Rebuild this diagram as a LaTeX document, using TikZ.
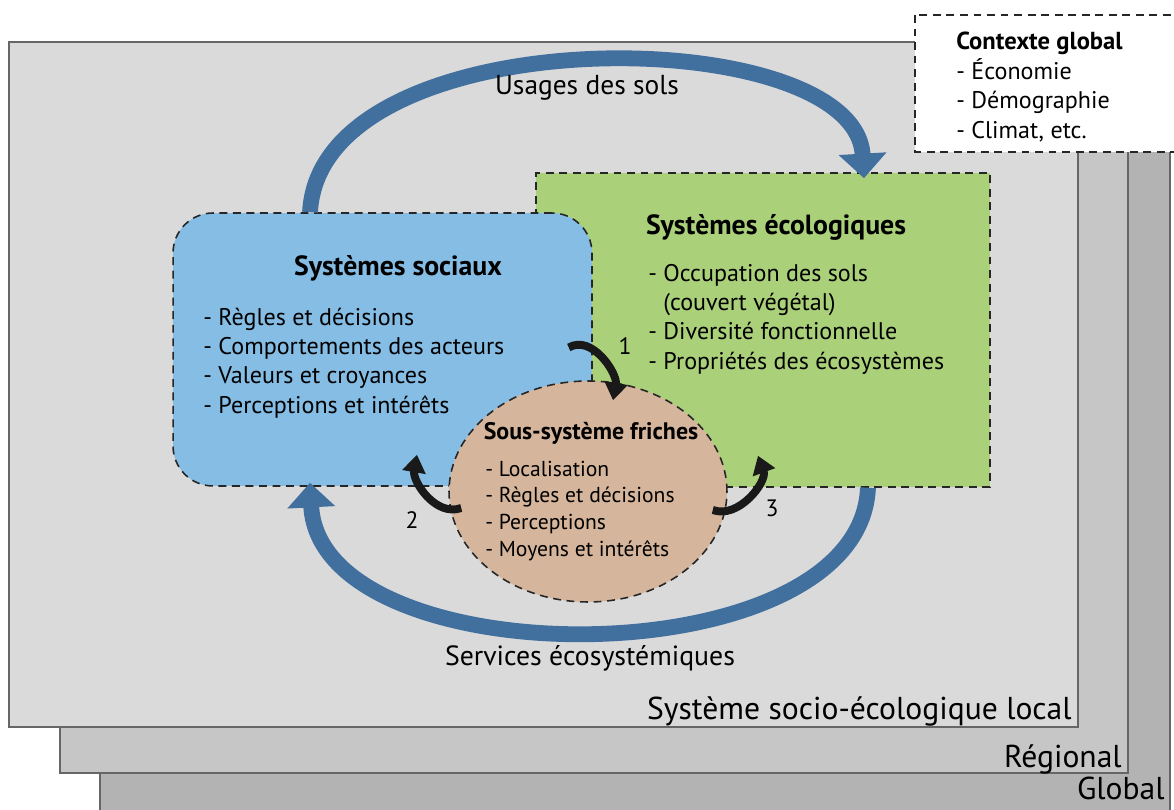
\documentclass[tikz,border=0pt]{standalone}
\usepackage{fontspec}
\setmainfont{PT Sans}
\usetikzlibrary{arrows.meta,shapes.geometric}
\definecolor{fondlocal}{HTML}{DADADA}
\definecolor{fondregion}{HTML}{C6C6C6}
\definecolor{fondglobal}{HTML}{B3B3B3}
\definecolor{vertsys}{HTML}{ABD07A}
\definecolor{bleusys}{HTML}{85BDE5}
\definecolor{friche}{HTML}{D5B59B}
\definecolor{fleche}{HTML}{41709F}
\begin{document}
\begin{tikzpicture}[x=0.02cm,y=-0.02cm]
\tikzset{niveau/.style={draw=black!60, line width=0.7pt}}
\tikzset{pointille/.style={draw=black!85, line width=0.9pt, dash pattern=on 4.5pt off 3.2pt}}
\tikzset{liste/.style={anchor=west, align=left, inner sep=0pt, font=\fontsize{13.7}{16.7}\selectfont}}
\tikzset{titre/.style={inner sep=0pt, font=\bfseries\fontsize{15.8}{18}\selectfont}}
\tikzset{echelle/.style={inner sep=0pt, anchor=base east, font=\fontsize{18}{20}\selectfont}}
\tikzset{flux/.style={line width=9pt, draw=fleche, -{Triangle[length=14pt,width=26.5pt]}}}
\tikzset{retro/.style={line width=4.5pt, black!90, -{Triangle[length=10pt,width=13pt]}}}
\tikzset{numero/.style={inner sep=0pt, font=\fontsize{13.5}{15}\selectfont}}

\useasboundingbox (0,0) rectangle (1174,810);
\clip (0,0) rectangle (1174,810);
\fill[white] (0,0) rectangle (1174,810);

\draw[niveau, fill=fondglobal] (100,90) rectangle (1170,840);
\draw[niveau, fill=fondregion] (60,66) rectangle (1128,773);
\draw[niveau, fill=fondlocal] (9,42) rectangle (1078,727);
\draw[pointille, fill=white] (915,15) rectangle (1190,152);

\draw (956,50) node[anchor=base west, inner sep=0pt, font=\bfseries\fontsize{14}{17}\selectfont] (contexte) {Contexte global};
\draw (956,100) node[liste] (contexteliste) {- Économie\\- Démographie\\- Climat, etc.};

\draw (1072,720) node[echelle] (local) {Système socio-écologique local};
\draw (1122,768) node[echelle] (regional) {Régional};
\draw (1165,800) node[echelle] (global) {Global};

\draw (763,330) node[pointille, fill=vertsys, minimum width=9.08cm, minimum height=6.28cm] (ecolo) {};
\draw (382.5,349.5) node[pointille, fill=bleusys, rounded corners=0.8cm, minimum width=8.38cm, minimum height=5.46cm] (sociaux) {};
\draw (588,491.5) node[pointille, fill=friche, ellipse, inner sep=0pt, minimum width=5.56cm, minimum height=4.42cm] (friches) {};

\draw (776,227) node[titre] (ecolotitre) {Systèmes écologiques};
\draw (648,319) node[liste] (ecololiste) {- Occupation des sols\\\hphantom{- }(couvert végétal)\\- Diversité fonctionnelle\\- Propriétés des écosystèmes};

\draw (398,268) node[titre] (sociauxtitre) {Systèmes sociaux};
\draw (203,363) node[liste] (sociauxliste) {- Règles et décisions\\- Comportements des acteurs\\- Valeurs et croyances\\- Perceptions et intérêts};

\draw (591,433) node[titre, font=\bfseries\fontsize{13.6}{15}\selectfont] (frichestitre) {Sous-système friches};
\draw (485,511) node[liste, font=\fontsize{12.3}{15.3}\selectfont] (frichesliste) {- Localisation\\- Règles et décisions\\- Perceptions\\- Moyens et intérêts};

\draw[flux] ([xshift=-1.45cm]sociaux.north) .. controls (320,15) and (855,20) .. ([xshift=2.02cm,yshift=-0.12cm]ecolo.north);
\draw[flux] ([xshift=2.1cm]ecolo.south) .. controls (860,680) and (320,680) .. ([xshift=-1.45cm,yshift=0.08cm]sociaux.south);
\draw (587,88) node[inner sep=0pt, font=\fontsize{15.6}{17}\selectfont] (usages) {Usages des sols};
\draw (590,658) node[inner sep=0pt, font=\fontsize{15.8}{17}\selectfont] (services) {Services écosystémiques};

\draw[retro] ([shift={(-24,-2)}]sociaux.east) to[out=30,in=80] ([shift={(25,20)}]friches.north);
\draw[retro] ([shift={(13,16.5)}]friches.west) to[out=200,in=-100] ([shift={(34.5,-32)}]sociaux.south);
\draw[retro] ([shift={(-15,18.5)}]friches.east) to[out=-20,in=-70] ([shift={(-5,-32)}]ecolo.south);
\draw (625,346) node[numero] (un) {1};
\draw (412,520) node[numero] (deux) {2};
\draw (772,508) node[numero] (trois) {3};
\end{tikzpicture}
\end{document}
